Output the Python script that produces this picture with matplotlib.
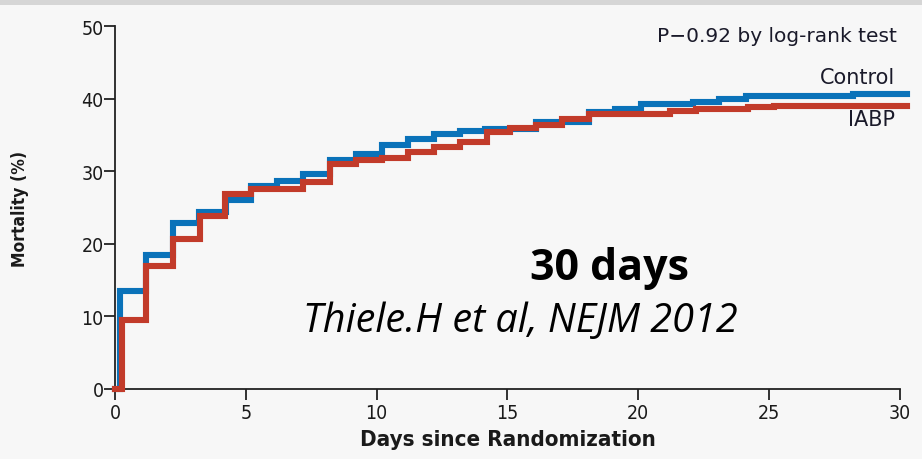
import matplotlib.pyplot as plt
import numpy as np

# Kaplan-Meier style cumulative mortality, IABP-SHOCK II, 30 days
control_days = [0, 0.2, 1.2, 2.2, 3.2, 4.25, 5.2, 6.2, 7.2, 8.2, 9.2, 10.2, 11.2,
                12.2, 13.2, 14.15, 16.1, 18.1, 19.1, 20.1, 22.1, 23.1, 24.1, 28.2, 30.25]
control_mort = [0, 13.5, 18.4, 22.9, 24.4, 26.1, 28.0, 28.7, 29.6, 31.6, 32.4, 33.6, 34.5,
                35.1, 35.5, 35.8, 36.8, 38.2, 38.5, 39.3, 39.6, 39.9, 40.3, 40.6, 40.6]

iabp_days = [0, 0.25, 1.2, 2.2, 3.25, 4.2, 5.2, 7.2, 8.2, 9.2, 10.2, 11.2, 12.2,
             13.2, 14.2, 15.1, 16.1, 17.1, 18.1, 21.2, 22.2, 24.2, 25.2, 30.25]
iabp_mort = [0, 9.5, 16.9, 20.7, 23.8, 26.9, 27.6, 28.5, 31.0, 31.5, 31.8, 32.7, 33.3,
             34.0, 35.35, 36.0, 36.4, 37.2, 37.9, 38.3, 38.6, 38.8, 39.0, 39.0]

x_ticks = [0, 5, 10, 15, 20, 25, 30]
y_ticks = [0, 10, 20, 30, 40, 50]

blue = '#0a72b9'
red = '#c23b2a'
bg = '#f7f7f7'

fig = plt.figure(figsize=(9.22, 4.6), dpi=100, facecolor=bg)
# thin grey band along the top edge
fig.patches.append(plt.Rectangle((0, 0.988), 1, 0.012, transform=fig.transFigure,
                                 facecolor='#d6d6d6', edgecolor='none'))

ax = fig.add_axes([0.1247, 0.1522, 0.8514, 0.7891])
ax.set_facecolor(bg)

ax.step(control_days, control_mort, where='post', color=blue, lw=4.4,
        solid_joinstyle='miter', clip_on=False, zorder=3)
ax.step(iabp_days, iabp_mort, where='post', color=red, lw=4.4,
        solid_joinstyle='miter', clip_on=False, zorder=4)

ax.set_xlim(0, 30)
ax.set_ylim(0, 50)
ax.set_xticks(x_ticks)
ax.set_yticks(y_ticks)
for side in ['top', 'right']:
    ax.spines[side].set_visible(False)
for side in ['left', 'bottom']:
    ax.spines[side].set_linewidth(1.3)
    ax.spines[side].set_color('#222222')
ax.tick_params(direction='out', length=8, width=1.3, color='#222222',
               labelsize=14, pad=0)
for lab in ax.get_xticklabels() + ax.get_yticklabels():
    lab.set_fontstretch('condensed')
    lab.set_color('#1a1a1a')
ax.tick_params(axis='x', pad=2)

ax.set_xlabel('Days since Randomization', fontsize=16, fontweight='bold',
              fontstretch='condensed', labelpad=5, color='#1a1a1a')
ax.set_ylabel('Mortality (%)', fontsize=12.5, fontweight='bold',
              fontstretch='condensed', labelpad=38, color='#1a1a1a')

ax.text(29.9, 48.7, 'P\u22120.92 by log-rank test', ha='right', va='center',
        fontsize=14.5, family='DejaVu Sans', color='#1a1a2a')
ax.text(29.8, 43.0, 'Control', ha='right', va='center',
        fontsize=15, family='DejaVu Sans', color='#1a1a2a')
ax.text(29.8, 37.2, 'IABP', ha='right', va='center',
        fontsize=15, family='DejaVu Sans', color='#1a1a2a')

ax.text(18.9, 16.8, '30 days', ha='center', va='center', fontsize=31,
        fontweight='bold', family='Open Sans', color='black')
ax.text(15.5, 9.4, 'Thiele.H et al, NEJM 2012', ha='center', va='center',
        fontsize=28.5, style='italic', family='Open Sans', color='black')

fig.savefig('out.png', dpi=100, facecolor=bg)
